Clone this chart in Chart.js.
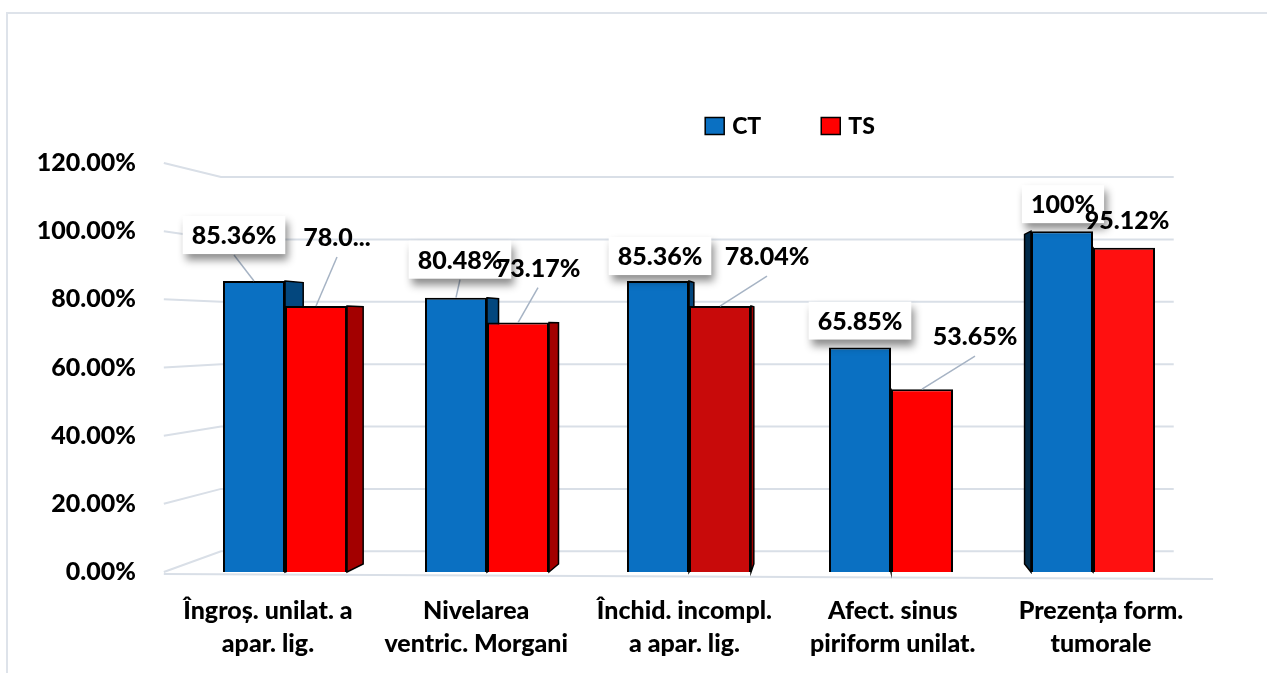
<!DOCTYPE html>
<html>
<head>
<meta charset="utf-8">
<script src="https://cdn.jsdelivr.net/npm/chart.js@4.4.0/dist/chart.umd.min.js"></script>
<style>
  html, body { margin: 0; padding: 0; background: #fff; }
  #wrap { width: 1267px; height: 673px; }
</style>
</head>
<body>
<div id="wrap"><canvas id="chart" width="1267" height="673"></canvas></div>
<script>
var categories = [
    ['Îngroș. unilat. a', 'apar. lig.'],
    ['Nivelarea', 'ventric. Morgani'],
    ['Închid. incompl.', 'a apar. lig.'],
    ['Afect. sinus', 'piriform unilat.'],
    ['Prezența form.', 'tumorale']
];
var ctValues = [85.36, 80.48, 85.36, 65.85, 100];
var tsValues = [78.04, 73.17, 78.04, 53.65, 95.12];
var ctLabels = ['85.36%', '80.48%', '85.36%', '65.85%', '100%'];
var tsLabels = ['78.0...', '73.17%', '78.04%', '53.65%', '95.12%'];
var yTicks = [0, 20, 40, 60, 80, 100, 120];

// where each value label sits, relative to the top of its bar
var ctLabelOffsets = [[-20, -46], [4, -38], [2, -25], [0, -27], [1, -27]];
var tsLabelOffsets = [[21, -69], [20, -55], [47, -50], [53, -53], [3, -28]];

var FONT = 'Lato';
var WEIGHT = '900';

// fake excel 3d: one vanishing point, walls and bar sides recede towards it
var persp = { eyeX: 0.646, eyeValue: 71.6, wall: 0.085, bar: 0.033, plane: 0.03 };

function eye(chart) {
    var ca = chart.chartArea;
    return {
        x: ca.left + (ca.right - ca.left) * persp.eyeX,
        y: chart.scales.y.getPixelForValue(persp.eyeValue)
    };
}

function toFront(x, vx) {
    return (x - persp.plane * vx) / (1 - persp.plane);
}

var depthPlugin = {
    id: 'depth',
    beforeDatasetsDraw: function (chart) {
        var ctx = chart.ctx, ca = chart.chartArea, ys = chart.scales.y, v = eye(chart);
        var fl = toFront(ca.left, v.x), fr = toFront(ca.right, v.x);
        var bl = fl + (v.x - fl) * persp.wall, br = fr + (v.x - fr) * persp.wall;

        ctx.save();
        ctx.strokeStyle = '#D9DFE7';
        ctx.lineWidth = 2;
        ys.ticks.forEach(function (t) {
            var fy = ys.getPixelForValue(t.value);
            var by = fy + (v.y - fy) * persp.wall;
            ctx.beginPath();
            ctx.moveTo(fl, fy);
            ctx.lineTo(bl, by);
            ctx.lineTo(br, by);
            ctx.stroke();
        });
        var f0 = ys.getPixelForValue(0);
        ctx.beginPath();
        ctx.moveTo(fl, f0 + 2);
        ctx.lineTo(fr + 8, f0 + 7);
        ctx.stroke();

        // side faces of the bars
        chart.data.datasets.forEach(function (ds, di) {
            chart.getDatasetMeta(di).data.forEach(function (bar) {
                var p = bar.getProps(['x', 'y', 'base', 'width'], true);
                var left = p.x - p.width / 2, right = p.x + p.width / 2;
                var edge = null;
                if (v.x > right) edge = right;
                else if (v.x < left) edge = left;
                if (edge === null) return;
                var ex = edge + (v.x - edge) * persp.bar;
                var ty = p.y + (v.y - p.y) * persp.bar;
                var by = p.base + (v.y - p.base) * persp.bar;
                ctx.beginPath();
                ctx.moveTo(edge, p.y);
                ctx.lineTo(ex, ty);
                ctx.lineTo(ex, by);
                ctx.lineTo(edge, p.base);
                ctx.closePath();
                ctx.fillStyle = edge === right ? ds.sideColor : ds.farSideColor;
                ctx.fill();
                ctx.strokeStyle = '#000';
                ctx.lineWidth = 1.5;
                ctx.stroke();
            });
        });
        ctx.restore();
    }
};

var labelsPlugin = {
    id: 'valueLabels',
    afterDatasetsDraw: function (chart) {
        var ctx = chart.ctx;
        var sets = [
            { meta: chart.getDatasetMeta(0), text: ctLabels, off: ctLabelOffsets, box: true },
            { meta: chart.getDatasetMeta(1), text: tsLabels, off: tsLabelOffsets, box: false }
        ];
        ctx.save();
        ctx.font = WEIGHT + ' 25px ' + FONT;

        // leader lines
        ctx.strokeStyle = '#A6B3C4';
        ctx.lineWidth = 1.5;
        sets.forEach(function (s) {
            s.meta.data.forEach(function (bar, i) {
                var lx = bar.x + s.off[i][0], ly = bar.y + s.off[i][1];
                if (bar.y - (ly + 20) > 10) {
                    ctx.beginPath();
                    ctx.moveTo(lx, ly + 20);
                    ctx.lineTo(bar.x, bar.y);
                    ctx.stroke();
                }
            });
        });

        sets.forEach(function (s) {
            s.meta.data.forEach(function (bar, i) {
                var lx = bar.x + s.off[i][0], ly = bar.y + s.off[i][1];
                if (s.box) {
                    var w = ctx.measureText(s.text[i]).width + 18, h = 38;
                    ctx.save();
                    ctx.shadowColor = 'rgba(0,0,0,0.45)';
                    ctx.shadowBlur = 8;
                    ctx.shadowOffsetX = 3;
                    ctx.shadowOffsetY = 6;
                    ctx.fillStyle = '#fff';
                    ctx.fillRect(lx - w / 2, ly - h / 2, w, h);
                    ctx.restore();
                }
                ctx.fillStyle = '#000';
                ctx.textAlign = 'center';
                ctx.textBaseline = 'alphabetic';
                ctx.fillText(s.text[i], lx, ly + 9);
            });
        });
        ctx.restore();
    },
    afterDraw: function (chart) {
        var ctx = chart.ctx, ca = chart.chartArea, xs = chart.scales.x, v = eye(chart);
        ctx.save();

        // outer frame
        ctx.strokeStyle = '#DEE3EA';
        ctx.lineWidth = 2;
        ctx.beginPath();
        ctx.moveTo(7, chart.height);
        ctx.lineTo(7, 13);
        ctx.lineTo(chart.width, 13);
        ctx.stroke();

        // category labels, on the front edge of the floor
        ctx.fillStyle = '#000';
        ctx.font = WEIGHT + ' 25px ' + FONT;
        ctx.textAlign = 'center';
        ctx.textBaseline = 'alphabetic';
        categories.forEach(function (lines, i) {
            var fx = toFront(xs.getPixelForTick(i), v.x);
            lines.forEach(function (line, j) {
                ctx.fillText(line, fx, ca.bottom + 47 + j * 33);
            });
        });

        // legend
        ctx.font = WEIGHT + ' 23px ' + FONT;
        ctx.textAlign = 'left';
        var items = chart.data.datasets;
        var widths = items.map(function (d) { return 19 + 8 + ctx.measureText(d.label).width; });
        var total = widths.reduce(function (a, b) { return a + b; }, 0) + 60 * (items.length - 1);
        var lx = ca.left + (ca.right - ca.left) * 0.6 - total / 2, ly = 126;
        items.forEach(function (d, i) {
            ctx.fillStyle = Array.isArray(d.backgroundColor) ? d.backgroundColor[0] : d.backgroundColor;
            ctx.fillRect(lx, ly - 8.5, 19, 17);
            ctx.strokeStyle = '#000';
            ctx.lineWidth = 1.5;
            ctx.strokeRect(lx, ly - 8.5, 19, 17);
            ctx.fillStyle = '#000';
            ctx.fillText(d.label, lx + 27, ly + 8);
            lx += widths[i] + 60;
        });
        ctx.restore();
    }
};

var ctx = document.getElementById('chart').getContext('2d');
new Chart(ctx, {
    type: 'bar',
    data: {
        labels: categories,
        datasets: [{
            label: 'CT',
            data: ctValues,
            backgroundColor: '#0A70C2',
            sideColor: '#03477E',
            farSideColor: '#022B4A',
            borderColor: '#000',
            borderWidth: 2,
            categoryPercentage: 0.614,
            barPercentage: 1
        }, {
            label: 'TS',
            data: tsValues,
            backgroundColor: ['#FF0000', '#FF0000', '#C80A0A', '#FF0000', '#FF1010'],
            sideColor: '#A30000',
            farSideColor: '#7A0000',
            borderColor: '#000',
            borderWidth: 2,
            categoryPercentage: 0.614,
            barPercentage: 1
        }]
    },
    options: {
        responsive: false,
        animation: false,
        layout: { padding: { top: 163, right: 73, bottom: 0, left: 0 } },
        plugins: {
            legend: { display: false },
            tooltip: { enabled: false }
        },
        scales: {
            x: {
                grid: { display: false },
                border: { display: false },
                ticks: { display: false },
                afterFit: function (s) { s.height = 101; }
            },
            y: {
                min: 0,
                max: 120,
                grid: { display: false },
                border: { display: false },
                ticks: {
                    padding: 40,
                    color: '#000',
                    font: { family: FONT, weight: WEIGHT, size: 25 },
                    callback: function (value) { return value.toFixed(2) + '%'; }
                },
                afterBuildTicks: function (s) {
                    s.ticks = yTicks.map(function (v) { return { value: v }; });
                },
                afterFit: function (s) { s.width = 184; }
            }
        }
    },
    plugins: [depthPlugin, labelsPlugin]
});
</script>
</body>
</html>
